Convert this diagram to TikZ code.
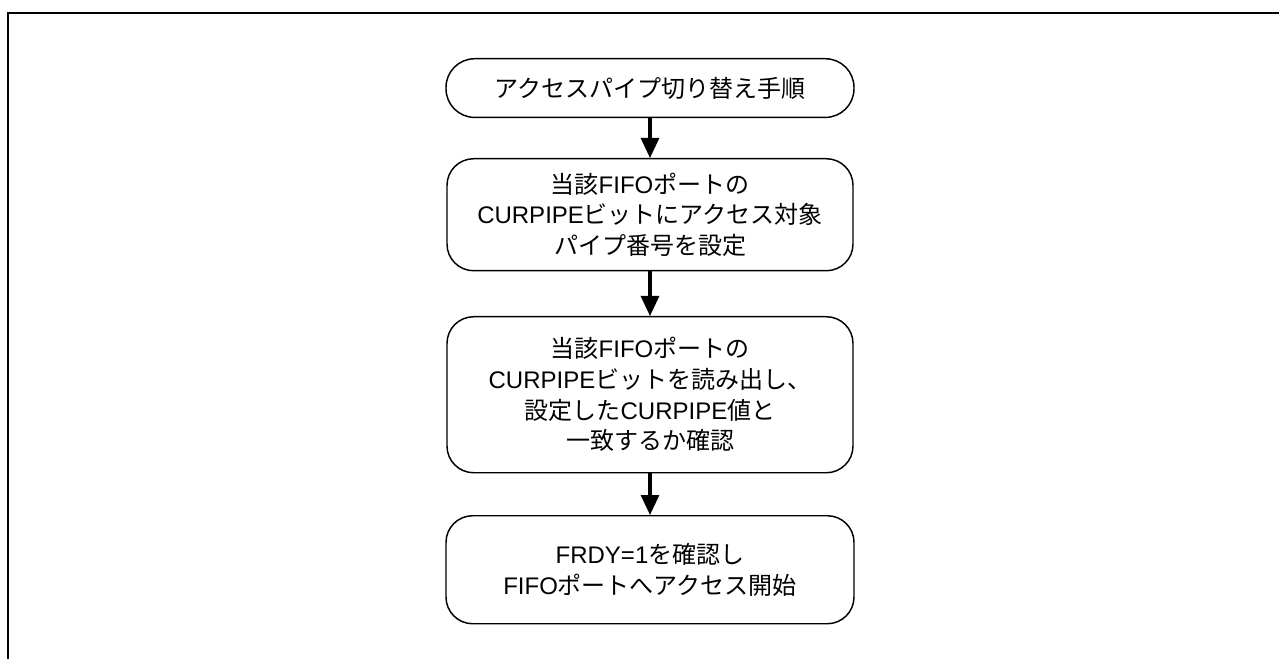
\documentclass[tikz,border=0pt]{standalone}
\usepackage{fontspec}
\setmainfont{Noto Sans CJK JP}
\newfontfamily\lat{Liberation Sans}
\usetikzlibrary{arrows.meta}
\tikzset{
  flowbox/.style={draw, line width=1.1pt, rounded corners=20pt, align=center,
    font=\fontsize{18pt}{23pt}\selectfont, inner sep=0pt, anchor=north},
  termbox/.style={flowbox, rounded corners=21.5pt},
  flowarrow/.style={line width=2.3pt, -{Triangle[length=15pt,width=13.5pt]}},
  frameline/.style={line width=1.9pt}
}
\begin{document}
\begin{tikzpicture}[x=0.75pt,y=-0.75pt]
\useasboundingbox (0,0) rectangle (1279,659);
\draw[frameline] (1279,13) -- (8,13) -- (8,659);
\node[termbox, minimum width=306pt, minimum height=44pt] (b1) at (650,58)
  {アクセスパイプ切り替え手順};
\node[flowbox, minimum width=304.5pt, minimum height=84pt] (b2) at (650,158)
  {当該{\lat FIFO}ポートの\\{\lat CURPIPE}ビットにアクセス対象\\パイプ番号を設定};
\node[flowbox, minimum width=304.5pt, minimum height=117pt] (b3) at (650,316)
  {当該{\lat FIFO}ポートの\\{\lat CURPIPE}ビットを読み出し、\\設定した{\lat CURPIPE}値と\\一致するか確認};
\node[flowbox, minimum width=306pt, minimum height=81pt] (b4) at (650,515)
  {{\lat FRDY=1}を確認し\\{\lat FIFO}ポートへアクセス開始};
\draw[flowarrow] (b1.south) -- (b2.north);
\draw[flowarrow] (b2.south) -- (b3.north);
\draw[flowarrow] (b3.south) -- (b4.north);
\end{tikzpicture}
\end{document}
